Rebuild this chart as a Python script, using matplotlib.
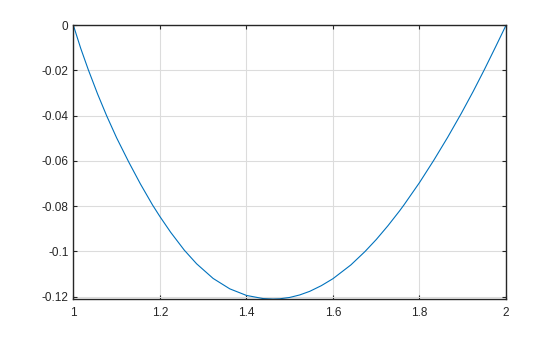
import numpy as np
import matplotlib
matplotlib.use("Agg")
import matplotlib.pyplot as plt

# points
x = [1.0, 1.017, 1.0346, 1.056, 1.0771, 1.10, 1.128, 1.155, 1.183, 1.2,
     1.225, 1.2565, 1.2848, 1.3231, 1.3616, 1.4, 1.4385, 1.4615, 1.477, 1.5,
     1.523, 1.5463, 1.573, 1.6, 1.6415, 1.674, 1.7, 1.727, 1.754, 1.764,
     1.8, 1.8331, 1.865, 1.8963, 1.924, 1.95, 1.976, 2.0]
y = [0.0, -0.0102, -0.0197, -0.0304, -0.0401, -0.0498, -0.0605, -0.0702, -0.0795, -0.0846,
     -0.0916, -0.0995, -0.1055, -0.1120, -0.1166, -0.1195, -0.1209, -0.1211, -0.1210, -0.1204,
     -0.1193, -0.1177, -0.1152, -0.1121, -0.1060, -0.1001, -0.0948, -0.0887, -0.0821, -0.0795,
     -0.0696, -0.0597, -0.0496, -0.0391, -0.0293, -0.0196, -0.0095, 0.0]

xticks = [1, 1.2, 1.4, 1.6, 1.8, 2]
xticklabels = ["1", "1.2", "1.4", "1.6", "1.8", "2"]
yticks = [0, -0.02, -0.04, -0.06, -0.08, -0.1, -0.12]
yticklabels = ["0", "-0.02", "-0.04", "-0.06", "-0.08", "-0.1", "-0.12"]

plt.rcParams['font.family'] = ['Liberation Sans', 'DejaVu Sans']
axcol = '#262626'

fig = plt.figure(figsize=(5.6, 3.37), dpi=100)
ax = fig.add_axes([0.131, 0.112, 0.7726, 0.813])

ax.plot(x, y, color='#0072BD', linewidth=0.8)

ax.set_xlim(1, 2)
ax.set_ylim(-0.1212, 0)
ax.set_xticks(xticks)
ax.set_xticklabels(xticklabels)
ax.set_yticks(yticks)
ax.set_yticklabels(yticklabels)

ax.grid(True, color='#dcdcdc', linewidth=0.8)
ax.set_axisbelow(True)
ax.tick_params(direction='in', length=3, width=0.8, colors=axcol,
               labelsize=8.5, top=True, right=True)
ax.tick_params(axis='x', pad=5.5)
ax.tick_params(axis='y', pad=3.5)
for s in ax.spines.values():
    s.set_color(axcol)
    s.set_linewidth(1.0)

fig.savefig("out.png", dpi=100)
